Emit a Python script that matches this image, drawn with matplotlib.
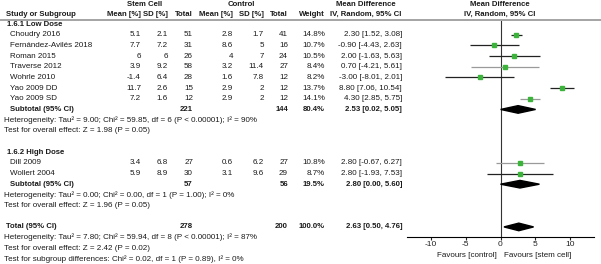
import matplotlib
matplotlib.use('Agg')
import matplotlib.pyplot as plt
from matplotlib.patches import Polygon

plt.rcParams['font.family'] = ['Liberation Sans', 'DejaVu Sans']

# données
etudes_bas = ['Choudry 2016', 'Fernández-Avilés 2018', 'Roman 2015', 'Traverse 2012',
              'Wohrle 2010', 'Yao 2009 DD', 'Yao 2009 SD']
sc_moy_bas = ['5.1', '7.7', '6', '3.9', '-1.4', '11.7', '7.2']
sc_sd_bas = ['2.1', '7.2', '6', '9.2', '6.4', '2.6', '1.6']
sc_n_bas = [51, 31, 26, 58, 28, 15, 12]
ct_moy_bas = ['2.8', '8.6', '4', '3.2', '1.6', '2.9', '2.9']
ct_sd_bas = ['1.7', '5', '7', '11.4', '7.8', '2', '2']
ct_n_bas = [41, 16, 24, 27, 12, 12, 12]
poids_bas = [14.8, 10.7, 10.5, 8.4, 8.2, 13.7, 14.1]
md_bas = [2.30, -0.90, 2.00, 0.70, -3.00, 8.80, 4.30]
lo_bas = [1.52, -4.43, -1.63, -4.21, -8.01, 7.06, 2.85]
hi_bas = [3.08, 2.63, 5.63, 5.61, 2.01, 10.54, 5.75]

etudes_haut = ['Dill 2009', 'Wollert 2004']
sc_moy_haut = ['3.4', '5.9']
sc_sd_haut = ['6.8', '8.9']
sc_n_haut = [27, 30]
ct_moy_haut = ['0.6', '3.1']
ct_sd_haut = ['6.2', '9.6']
ct_n_haut = [27, 29]
poids_haut = [10.8, 8.7]
md_haut = [2.80, 2.80]
lo_haut = [-0.67, -1.93]
hi_haut = [6.27, 7.53]

# sous-totaux : [md, lo, hi]
sous_total_bas = [2.53, 0.02, 5.05]
sous_total_haut = [2.80, 0.00, 5.60]
total = [2.63, 0.50, 4.76]

het_bas = 'Heterogeneity: Tau² = 9.00; Chi² = 59.85, df = 6 (P < 0.00001); I² = 90%'
eff_bas = 'Test for overall effect: Z = 1.98 (P = 0.05)'
het_haut = 'Heterogeneity: Tau² = 0.00; Chi² = 0.00, df = 1 (P = 1.00); I² = 0%'
eff_haut = 'Test for overall effect: Z = 1.96 (P = 0.05)'
het_tot = 'Heterogeneity: Tau² = 7.80; Chi² = 59.94, df = 8 (P < 0.00001); I² = 87%'
eff_tot = 'Test for overall effect: Z = 2.42 (P = 0.02)'
sous_groupes = 'Test for subgroup differences: Chi² = 0.02, df = 1 (P = 0.89), I² = 0%'

W, H = 601, 264
fig = plt.figure(figsize=(W / 100, H / 100), dpi=100)

# axe "texte" en pixels
axt = fig.add_axes([0, 0, 1, 1])
axt.set_xlim(0, W)
axt.set_ylim(H, 0)
axt.axis('off')

# axe du forest plot (y en pixels aussi)
y_haut, y_bas = 21, 237
x_g, x_d = 407, 594
axf = fig.add_axes([x_g / W, 1 - y_bas / H, (x_d - x_g) / W, (y_bas - y_haut) / H])
axf.set_xlim(-13.45, 13.45)
axf.set_ylim(y_bas, y_haut)
axf.patch.set_alpha(0)
for s in ['top', 'left', 'right']:
    axf.spines[s].set_visible(False)
axf.spines['bottom'].set_linewidth(0.8)
axf.set_yticks([])
axf.set_xticks([-10, -5, 0, 5, 10])
axf.set_xticklabels(['-10', '-5', '0', '5', '10'])
axf.tick_params(axis='x', length=2.5, width=0.8, labelsize=6.0, pad=0.5, colors='#222222')

fs = 5.8
fsb = 5.6
txt = '#1a1a1a'
pas = 10.68
y0 = 24


def ligne(i):
    return y0 + i * pas


# positions des colonnes (bord droit)
col = {'sc_m': 141, 'sc_sd': 168, 'sc_n': 193, 'ct_m': 233, 'ct_sd': 264,
       'ct_n': 288, 'w': 325, 'ci': 402}

# en-têtes
axt.text(145, 4, 'Stem Cell', ha='center', va='center', fontsize=fsb, fontweight='bold', color=txt)
axt.text(241, 4, 'Control', ha='center', va='center', fontsize=fsb, fontweight='bold', color=txt)
axt.text(366, 4, 'Mean Difference', ha='center', va='center', fontsize=fsb, fontweight='bold', color=txt)
axt.text(500, 4, 'Mean Difference', ha='center', va='center', fontsize=fsb, fontweight='bold', color=txt)
y_ent = 14
axt.text(6, y_ent, 'Study or Subgroup', ha='left', va='center', fontsize=fsb, fontweight='bold', color=txt)
for cle, lab in [('sc_m', 'Mean [%]'), ('sc_sd', 'SD [%]'), ('sc_n', 'Total'),
                 ('ct_m', 'Mean [%]'), ('ct_sd', 'SD [%]'), ('ct_n', 'Total'),
                 ('w', 'Weight')]:
    axt.text(col[cle], y_ent, lab, ha='right', va='center', fontsize=fsb, fontweight='bold', color=txt)
axt.text(366, y_ent, 'IV, Random, 95% CI', ha='center', va='center', fontsize=fsb, fontweight='bold', color=txt)
axt.text(500, y_ent, 'IV, Random, 95% CI', ha='center', va='center', fontsize=fsb, fontweight='bold', color=txt)
axt.plot([0, W], [19.5, 19.5], color='#8c8c8c', lw=1.1)

gris = {'Traverse 2012', 'Yao 2009 SD', 'Dill 2009'}


def groupe(i, titre, etudes, scm, scs, scn, ctm, cts, ctn, poids, md, lo, hi, st, het, eff):
    axt.text(7, ligne(i), titre, ha='left', va='center', fontsize=fsb, fontweight='bold', color=txt)
    i += 1
    for k, nom in enumerate(etudes):
        y = ligne(i)
        axt.text(10, y, nom, ha='left', va='center', fontsize=fs, color=txt)
        vals = [scm[k], scs[k], str(scn[k]), ctm[k], cts[k], str(ctn[k]),
                f'{poids[k]:.1f}%', f'{md[k]:.2f} [{lo[k]:.2f}, {hi[k]:.2f}]']
        for cle, v in zip(['sc_m', 'sc_sd', 'sc_n', 'ct_m', 'ct_sd', 'ct_n', 'w', 'ci'], vals):
            axt.text(col[cle], y, v, ha='right', va='center', fontsize=fs, color=txt)
        c = '#9a9a9a' if nom in gris else '#222222'
        axf.plot([lo[k], hi[k]], [y, y], color=c, lw=0.9, solid_capstyle='butt', zorder=2)
        axf.plot(md[k], y, marker='s', ms=1.6 + poids[k] * 0.07, color='#3cb43c',
                 mec='#3cb43c', zorder=3)
        i += 1
    y = ligne(i)
    axt.text(10, y, 'Subtotal (95% CI)', ha='left', va='center', fontsize=fsb, fontweight='bold', color=txt)
    axt.text(col['sc_n'], y, str(sum(scn)), ha='right', va='center', fontsize=fsb, fontweight='bold', color=txt)
    axt.text(col['ct_n'], y, str(sum(ctn)), ha='right', va='center', fontsize=fsb, fontweight='bold', color=txt)
    axt.text(col['w'], y, f'{sum(poids):.1f}%', ha='right', va='center', fontsize=fsb,
             fontweight='bold', color=txt)
    axt.text(col['ci'], y, f'{st[0]:.2f} [{st[1]:.2f}, {st[2]:.2f}]', ha='right', va='center',
             fontsize=fsb, fontweight='bold', color=txt)
    axf.add_patch(Polygon([[st[1], y], [st[0], y - 3.8], [st[2], y], [st[0], y + 3.8]],
                          closed=True, color='black', zorder=3))
    i += 1
    axt.text(4, ligne(i), het, ha='left', va='center', fontsize=fs, color=txt)
    i += 1
    axt.text(4, ligne(i), eff, ha='left', va='center', fontsize=fs, color=txt)
    return i + 2


i = groupe(0, '1.6.1 Low Dose', etudes_bas, sc_moy_bas, sc_sd_bas, sc_n_bas, ct_moy_bas,
           ct_sd_bas, ct_n_bas, poids_bas, md_bas, lo_bas, hi_bas, sous_total_bas,
           het_bas, eff_bas)
i = groupe(i, '1.6.2 High Dose', etudes_haut, sc_moy_haut, sc_sd_haut, sc_n_haut, ct_moy_haut,
           ct_sd_haut, ct_n_haut, poids_haut, md_haut, lo_haut, hi_haut, sous_total_haut,
           het_haut, eff_haut)

# total
y = ligne(i)
axt.text(6, y, 'Total (95% CI)', ha='left', va='center', fontsize=fsb, fontweight='bold', color=txt)
axt.text(col['sc_n'], y, str(sum(sc_n_bas) + sum(sc_n_haut)), ha='right', va='center',
         fontsize=fsb, fontweight='bold', color=txt)
axt.text(col['ct_n'], y, str(sum(ct_n_bas) + sum(ct_n_haut)), ha='right', va='center',
         fontsize=fsb, fontweight='bold', color=txt)
axt.text(col['w'], y, '100.0%', ha='right', va='center', fontsize=fsb, fontweight='bold', color=txt)
axt.text(col['ci'], y, f'{total[0]:.2f} [{total[1]:.2f}, {total[2]:.2f}]', ha='right',
         va='center', fontsize=fsb, fontweight='bold', color=txt)
axf.add_patch(Polygon([[total[1], y], [total[0], y - 3.8], [total[2], y], [total[0], y + 3.8]],
                      closed=True, color='black', zorder=3))
axt.text(4, ligne(i + 1), het_tot, ha='left', va='center', fontsize=fs, color=txt)
axt.text(4, ligne(i + 2), eff_tot, ha='left', va='center', fontsize=fs, color=txt)
axt.text(4, ligne(i + 3), sous_groupes, ha='left', va='center', fontsize=fs, color=txt)

# ligne verticale à 0
axf.axvline(0, color='#333333', lw=0.8, zorder=1)

# favours
axt.text(497, 255.5, 'Favours [control]', ha='right', va='center', fontsize=fs, color=txt)
axt.text(504, 255.5, 'Favours [stem cell]', ha='left', va='center', fontsize=fs, color=txt)

fig.savefig('out.png', dpi=100)
